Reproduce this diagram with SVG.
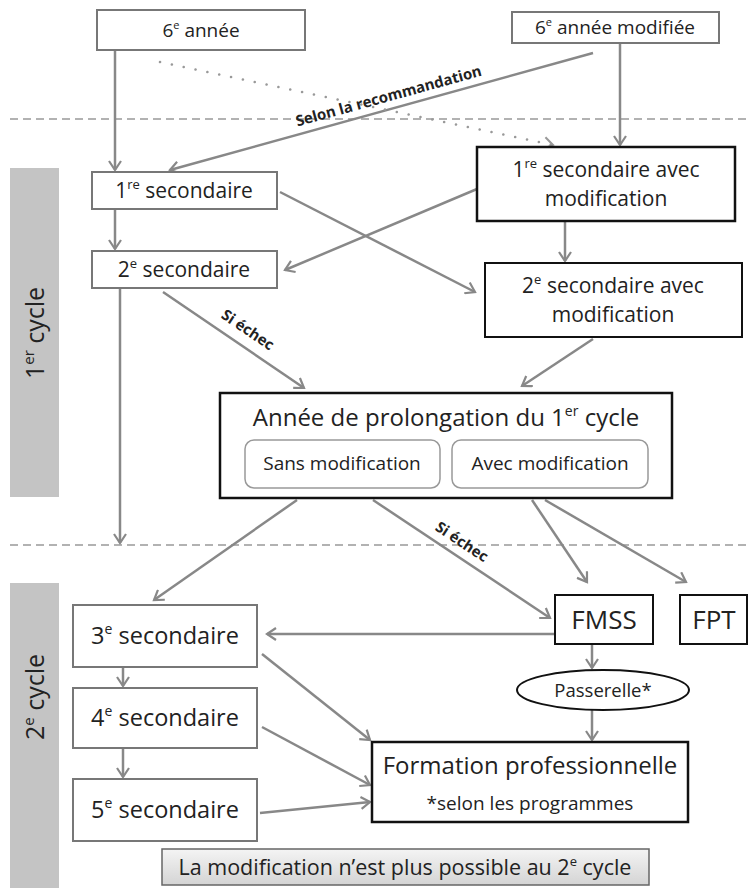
<svg xmlns="http://www.w3.org/2000/svg" width="750" height="888" viewBox="0 0 750 888">
<defs>
<marker id="ah" markerWidth="14" markerHeight="14" refX="10" refY="7" orient="auto" markerUnits="userSpaceOnUse">
<path d="M1,1 L10,7 L1,13" fill="none" stroke="#888" stroke-width="2.2"/>
</marker>
<marker id="ahd" markerWidth="14" markerHeight="14" refX="10" refY="7" orient="auto" markerUnits="userSpaceOnUse">
<path d="M1,1 L10,7 L1,13" fill="none" stroke="#999" stroke-width="2"/>
</marker>
<linearGradient id="ng" x1="0" y1="0" x2="0" y2="1">
<stop offset="0" stop-color="#f4f4f4"/>
<stop offset="1" stop-color="#d4d4d4"/>
</linearGradient>
</defs>
<style>
text{font-family:"Open Sans","Noto Sans","Liberation Sans",sans-serif;fill:#222;text-anchor:middle}
.gb{fill:#fff;stroke:#777;stroke-width:2}
.kb{fill:#fff;stroke:#111;stroke-width:2.5}
.ib{fill:#fff;stroke:#999;stroke-width:1.5}
.bar{fill:#c4c4c4}
.dash{stroke:#999;stroke-width:1.5;stroke-dasharray:8 5;fill:none}
.c{stroke:#888;stroke-width:2.5;fill:none;marker-end:url(#ah)}
.dot{stroke:#999;stroke-width:2.5;fill:none;stroke-dasharray:0.1 12;stroke-linecap:round;marker-end:url(#ahd)}
.lbl{font-size:15px;font-weight:bold}
.t19{font-size:19px}
.t21{font-size:21px}
.t23{font-size:23.5px}
.t26{font-size:26px}
</style>
<rect class="bar" x="10" y="168" width="49" height="329"/>
<rect class="bar" x="10" y="583" width="49" height="305"/>
<text x="0" y="0" transform="translate(44,333) rotate(-90)" style="font-size:25px">1<tspan font-size="15" dy="-10">er</tspan><tspan dy="10"> cycle</tspan></text>
<text x="0" y="0" transform="translate(44,697) rotate(-90)" style="font-size:25px">2<tspan font-size="15" dy="-10">e</tspan><tspan dy="10"> cycle</tspan></text>
<line class="dash" x1="10" y1="119" x2="750" y2="119"/>
<line class="dash" x1="10" y1="545" x2="750" y2="545"/>
<g id="connectors">
<line class="c" x1="115" y1="50" x2="115" y2="170"/>
<line class="c" x1="620" y1="43" x2="620" y2="145"/>
<line class="c" x1="593" y1="53" x2="170" y2="170"/>
<line class="dot" x1="160" y1="62" x2="553" y2="145"/>
<line class="c" x1="115" y1="209" x2="115" y2="249"/>
<line class="c" x1="280" y1="192" x2="475" y2="292"/>
<line class="c" x1="477" y1="189" x2="285" y2="270"/>
<line class="c" x1="565" y1="221" x2="565" y2="261"/>
<line class="c" x1="163" y1="292" x2="304" y2="388"/>
<line class="c" x1="593" y1="339" x2="522" y2="386"/>
<line class="c" x1="120" y1="288" x2="120" y2="543"/>
<line class="c" x1="297" y1="500" x2="154" y2="600"/>
<line class="c" x1="373" y1="500" x2="550" y2="618"/>
<line class="c" x1="532" y1="500" x2="587" y2="582"/>
<line class="c" x1="545" y1="500" x2="686" y2="582"/>
<line class="c" x1="555" y1="634" x2="267" y2="634"/>
<line class="c" x1="592" y1="644" x2="592" y2="668"/>
<line class="c" x1="592" y1="710" x2="592" y2="740"/>
<line class="c" x1="262" y1="654" x2="370" y2="740"/>
<line class="c" x1="262" y1="727" x2="370" y2="785"/>
<line class="c" x1="260" y1="813" x2="370" y2="802"/>
<line class="c" x1="123" y1="667" x2="123" y2="686"/>
<line class="c" x1="123" y1="748" x2="123" y2="777"/>
<text class="lbl" x="0" y="0" transform="translate(390,101) rotate(-15.4)">Selon la recommandation</text>
<text class="lbl" x="0" y="0" transform="translate(245,334) rotate(34)">Si échec</text>
<text class="lbl" x="0" y="0" transform="translate(459,546) rotate(33.7)">Si échec</text>
</g>
<g id="n6">
<rect class="gb" x="97" y="10" width="208" height="40"/>
<text class="t19" x="201" y="37">6<tspan font-size="11" dy="-8">e</tspan><tspan dy="8"> année</tspan></text>
</g>
<g id="n6m">
<rect class="gb" x="512" y="12" width="207" height="31"/>
<text class="t19" x="615" y="34">6<tspan font-size="11" dy="-8">e</tspan><tspan dy="8"> année modifiée</tspan></text>
</g>
<g id="s1">
<rect class="gb" x="92" y="172" width="185" height="37"/>
<text class="t21" x="184" y="198">1<tspan font-size="13" dy="-9">re</tspan><tspan dy="9"> secondaire</tspan></text>
</g>
<g id="s2">
<rect class="gb" x="92" y="251" width="185" height="37"/>
<text class="t21" x="184" y="277">2<tspan font-size="13" dy="-9">e</tspan><tspan dy="9"> secondaire</tspan></text>
</g>
<g id="s1m">
<rect class="kb" x="477" y="147" width="258" height="74"/>
<text class="t21" x="606" y="177">1<tspan font-size="13" dy="-9">re</tspan><tspan dy="9"> secondaire avec</tspan></text>
<text class="t21" x="606" y="206">modification</text>
</g>
<g id="s2m">
<rect class="kb" x="485" y="263" width="257" height="74" style="stroke-width:2"/>
<text class="t21" x="613" y="293">2<tspan font-size="13" dy="-9">e</tspan><tspan dy="9"> secondaire avec</tspan></text>
<text class="t21" x="613" y="322">modification</text>
</g>
<g id="prolong">
<rect class="kb" x="220" y="393" width="452" height="105"/>
<text x="446" y="426" style="font-size:24px">Année de prolongation du 1<tspan font-size="14" dy="-10">er</tspan><tspan dy="10"> cycle</tspan></text>
<rect class="ib" x="245" y="440" width="195" height="48" rx="9"/>
<text class="t19" x="342" y="470">Sans modification</text>
<rect class="ib" x="452" y="440" width="196" height="48" rx="9"/>
<text class="t19" x="550" y="470">Avec modification</text>
</g>
<g id="s3">
<rect class="gb" x="73" y="605" width="184" height="62"/>
<text class="t23" x="165" y="644">3<tspan font-size="14" dy="-10">e</tspan><tspan dy="10"> secondaire</tspan></text>
</g>
<g id="s4">
<rect class="gb" x="73" y="688" width="184" height="60"/>
<text class="t23" x="165" y="726">4<tspan font-size="14" dy="-10">e</tspan><tspan dy="10"> secondaire</tspan></text>
</g>
<g id="s5">
<rect class="gb" x="73" y="779" width="184" height="62"/>
<text class="t23" x="165" y="818">5<tspan font-size="14" dy="-10">e</tspan><tspan dy="10"> secondaire</tspan></text>
</g>
<g id="fmss">
<rect class="kb" x="555" y="595" width="98" height="49" style="stroke-width:2"/>
<text class="t26" x="604" y="629">FMSS</text>
</g>
<g id="fpt">
<rect class="kb" x="680" y="595" width="67" height="49" style="stroke-width:2"/>
<text class="t26" x="714" y="629">FPT</text>
</g>
<g id="passerelle">
<ellipse cx="603" cy="690" rx="86" ry="20" fill="#fff" stroke="#111" stroke-width="2"/>
<text x="603" y="697" style="font-size:18.5px">Passerelle*</text>
</g>
<g id="fp">
<rect class="kb" x="372" y="742" width="316" height="80"/>
<text x="530" y="774" style="font-size:24px">Formation professionnelle</text>
<text class="t19" x="530" y="810">*selon les programmes</text>
</g>
<g id="note">
<rect x="162" y="849" width="487" height="36" fill="url(#ng)" stroke="#666" stroke-width="1.5"/>
<text x="405" y="875" style="font-size:21.5px">La modification n’est plus possible au 2<tspan font-size="13" dy="-9">e</tspan><tspan dy="9"> cycle</tspan></text>
</g>
</svg>
